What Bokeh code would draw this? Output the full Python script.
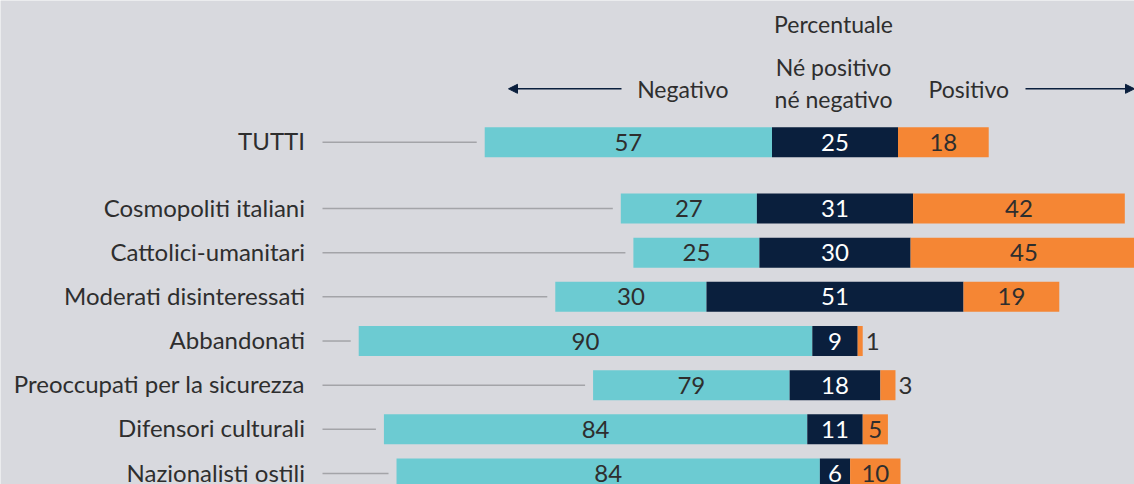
from bokeh.plotting import figure
from bokeh.models import Range1d, Arrow, NormalHead, Label
from bokeh.embed import file_html
from bokeh.resources import INLINE
from bokeh.core.properties import value

# ---------------- data ----------------
groups = ["TUTTI", "Cosmopoliti italiani", "Cattolici-umanitari",
          "Moderati disinteressati", "Abbandonati",
          "Preoccupati per la sicurezza", "Difensori culturali",
          "Nazionalisti ostili"]
negativo = [57, 27, 25, 30, 90, 79, 84, 84]
neutro = [25, 31, 30, 51, 9, 18, 11, 6]
positivo = [18, 42, 45, 19, 1, 3, 5, 10]
# length of the "Negativo" bar as drawn in the source chart
negativo_barra = [57, 27, 25, 30, 90, 39, 84, 84]
row_pos = [0, 1.5, 2.5, 3.5, 4.5, 5.5, 6.5, 7.5]

header_title = "Percentuale"
header_neg = "Negativo"
header_mid = ["Né positivo", "né negativo"]
header_pos = "Positivo"

# ---------------- style ----------------
BG = "#d8d9de"
CYAN = "#6ccbd2"
NAVY = "#0a1f3d"
ORANGE = "#f58634"
TEXT = "#2e2e2e"
LEADER = "#a3a4a8"
FONT = "Lato"
FS = "24px"
FSH = "23px"

PX = 5.04      # pixels per percentage point
ROW = 44.17    # pixels per row step
W, H = 1134, 484
X0, Y0 = 834.5, 141.75   # pixel position of the origin
TB = -8.0                # baseline correction (px)

p = figure(width=W, height=H,
           x_range=Range1d(-X0 / PX, (W - X0) / PX),
           y_range=Range1d((H - Y0) / ROW, -Y0 / ROW),
           output_backend="svg", toolbar_location=None, min_border=0,
           background_fill_color=BG, border_fill_color=BG,
           outline_line_color=None)
p.axis.visible = False
p.grid.visible = False

def py(px):
    """pixel row (from top) -> data y"""
    return (px - Y0) / ROW

neg_left = [-n / 2 - b for n, b in zip(neutro, negativo_barra)]
neg_right = [-n / 2 for n in neutro]
neu_right = [n / 2 for n in neutro]
pos_right = [n / 2 + v for n, v in zip(neutro, positivo)]

BH = 0.68
p.hbar(y=row_pos, left=neg_left, right=neg_right, height=BH,
       fill_color=CYAN, line_color=None)
p.hbar(y=row_pos, left=neg_right, right=neu_right, height=BH,
       fill_color=NAVY, line_color=None)
p.hbar(y=row_pos, left=neu_right, right=pos_right, height=BH,
       fill_color=ORANGE, line_color=None)

# leader lines
lead_start = (322 - X0) / PX
p.segment(x0=[lead_start] * len(groups), y0=row_pos,
          x1=[l - 8 / PX for l in neg_left], y1=row_pos,
          line_color=LEADER, line_width=1.5)

# category labels
p.text(x=[(304.5 - X0) / PX] * len(groups),
       y=[r + (6.5 + TB) / ROW for r in row_pos],
       text=groups, text_align="right", text_baseline="alphabetic",
       text_font=value(FONT), text_font_size=FS, text_color=TEXT)

# value labels
vy = [r + (8 + TB) / ROW for r in row_pos]
p.text(x=[(a + b) / 2 for a, b in zip(neg_left, neg_right)], y=vy,
       text=[str(v) for v in negativo], text_align="center",
       text_baseline="alphabetic", text_font=value(FONT),
       text_font_size=FS, text_color=TEXT)
p.text(x=[0] * len(groups), y=vy, text=[str(v) for v in neutro],
       text_align="center", text_baseline="alphabetic",
       text_font=value(FONT), text_font_size=FS, text_color="white")
in_x, in_y, in_t, out_x, out_y, out_t = [], [], [], [], [], []
for a, b, v, y in zip(neu_right, pos_right, positivo, vy):
    if v <= 3:
        out_x.append(b + 3 / PX); out_y.append(y); out_t.append(str(v))
    else:
        in_x.append((a + b) / 2); in_y.append(y); in_t.append(str(v))
p.text(x=in_x, y=in_y, text=in_t, text_align="center",
       text_baseline="alphabetic", text_font=value(FONT),
       text_font_size=FS, text_color=TEXT)
p.text(x=out_x, y=out_y, text=out_t, text_align="left",
       text_baseline="alphabetic", text_font=value(FONT),
       text_font_size=FS, text_color=TEXT)

# header
def lab(xpx, ypx, t, align):
    p.add_layout(Label(x=(xpx - X0) / PX, y=py(ypx + TB), text=t,
                       text_align=align, text_baseline="alphabetic",
                       text_font=FONT, text_font_size=FSH,
                       text_color=TEXT))

lab(833, 31.7, header_title, "center")
lab(833, 74.5, header_mid[0], "center")
lab(833, 106.5, header_mid[1], "center")
lab(728, 96.7, header_neg, "right")
lab(928, 96.7, header_pos, "left")

ay = py(88.3)
p.add_layout(Arrow(x_start=(621 - X0) / PX, y_start=ay,
                   x_end=(508 - X0) / PX, y_end=ay,
                   line_color=NAVY, line_width=1.5,
                   end=NormalHead(size=9, fill_color=NAVY, line_color=NAVY)))
p.add_layout(Arrow(x_start=(1025 - X0) / PX, y_start=ay,
                   x_end=(1134 - X0) / PX, y_end=ay,
                   line_color=NAVY, line_width=1.5,
                   end=NormalHead(size=9, fill_color=NAVY, line_color=NAVY)))

open("out.html", "w").write(file_html(p, INLINE))
